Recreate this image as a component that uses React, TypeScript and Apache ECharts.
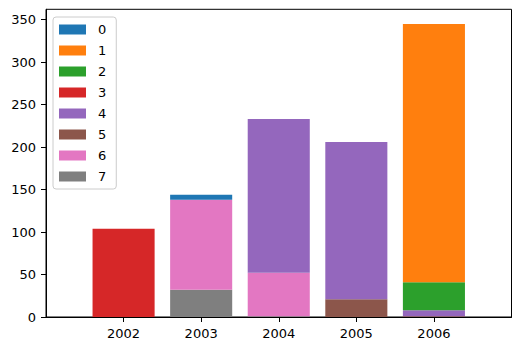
import React, { useEffect, useRef } from "react";
import * as echarts from "echarts";

const years = [2002, 2003, 2004, 2005, 2006];
const seriesNames = ["0", "1", "2", "3", "4", "5", "6", "7"];
const s0 = [0, 6, 0, 0, 0];
const s1 = [0, 0, 0, 0, 304];
const s2 = [0, 0, 0, 0, 33];
const s3 = [104, 0, 0, 0, 0];
const s4 = [0, 0, 181, 185, 7];
const s5 = [0, 0, 0, 21, 1];
const s6 = [0, 106, 51, 0, 0];
const s7 = [0, 32, 1, 0, 0];
const yTicks = [0, 50, 100, 150, 200, 250, 300, 350];
const colors = ["#1f77b4", "#ff7f0e", "#2ca02c", "#d62728", "#9467bd", "#8c564b", "#e377c2", "#7f7f7f"];

const allSeries = [s0, s1, s2, s3, s4, s5, s6, s7];

export default function App() {
  const ref = useRef<HTMLDivElement>(null);
  useEffect(() => {
    document.body.style.margin = "0";
    const chart = echarts.init(ref.current!, null, { renderer: "svg" });
    const font = "DejaVu Sans";
    // x axis padded by one empty slot on each side (as the x-limits extend one unit beyond the data)
    const xCats = [String(years[0] - 1), ...years.map(String), String(years[years.length - 1] + 1)];
    const inner = (i: number) => i > 0 && i < xCats.length - 1;
    // stack bottom-up: series 7 first, series 0 on top
    const order = [7, 6, 5, 4, 3, 2, 1, 0];
    chart.setOption({
      animation: false,
      textStyle: { fontFamily: font },
      grid: {
        left: 46,
        right: 9.5,
        top: 9.3,
        bottom: 34,
        show: true,
        borderColor: "#000",
        borderWidth: 1,
        backgroundColor: "transparent",
      },
      legend: {
        data: seriesNames,
        orient: "vertical",
        left: 53,
        top: 17,
        padding: [5, 10, 5, 6],
        itemWidth: 27,
        itemHeight: 10,
        itemGap: 6,
        icon: "rect",
        backgroundColor: "#fff",
        borderColor: "#ccc",
        borderWidth: 1,
        borderRadius: 3,
        textStyle: { fontFamily: font, fontSize: 13, color: "#000", lineHeight: 15, padding: [0, 0, 0, 7] },
      },
      xAxis: {
        type: "category",
        data: xCats,
        boundaryGap: false,
        splitLine: { show: false },
        axisLine: { show: true, onZero: false, lineStyle: { color: "#000" } },
        axisTick: { show: true, length: 5, lineStyle: { color: "#000" }, interval: (i: number) => inner(i) },
        axisLabel: {
          interval: (i: number) => inner(i),
          color: "#000",
          fontSize: 13,
          fontFamily: font,
          margin: 10,
        },
      },
      yAxis: {
        type: "value",
        min: 0,
        max: 362.25,
        splitLine: { show: false },
        axisLine: { show: true, lineStyle: { color: "#000" } },
        axisTick: { show: true, length: 5, lineStyle: { color: "#000" }, customValues: yTicks },
        axisLabel: {
          customValues: yTicks,
          color: "#000",
          fontSize: 13,
          fontFamily: font,
          margin: 10,
        },
      },
      series: order.map((i) => ({
        name: seriesNames[i],
        type: "bar",
        stack: "total",
        barWidth: "80%",
        itemStyle: { color: colors[i] },
        data: [null, ...allSeries[i], null],
      })),
    });
    return () => chart.dispose();
  }, []);
  return <div ref={ref} style={{ width: 521, height: 351 }} />;
}
